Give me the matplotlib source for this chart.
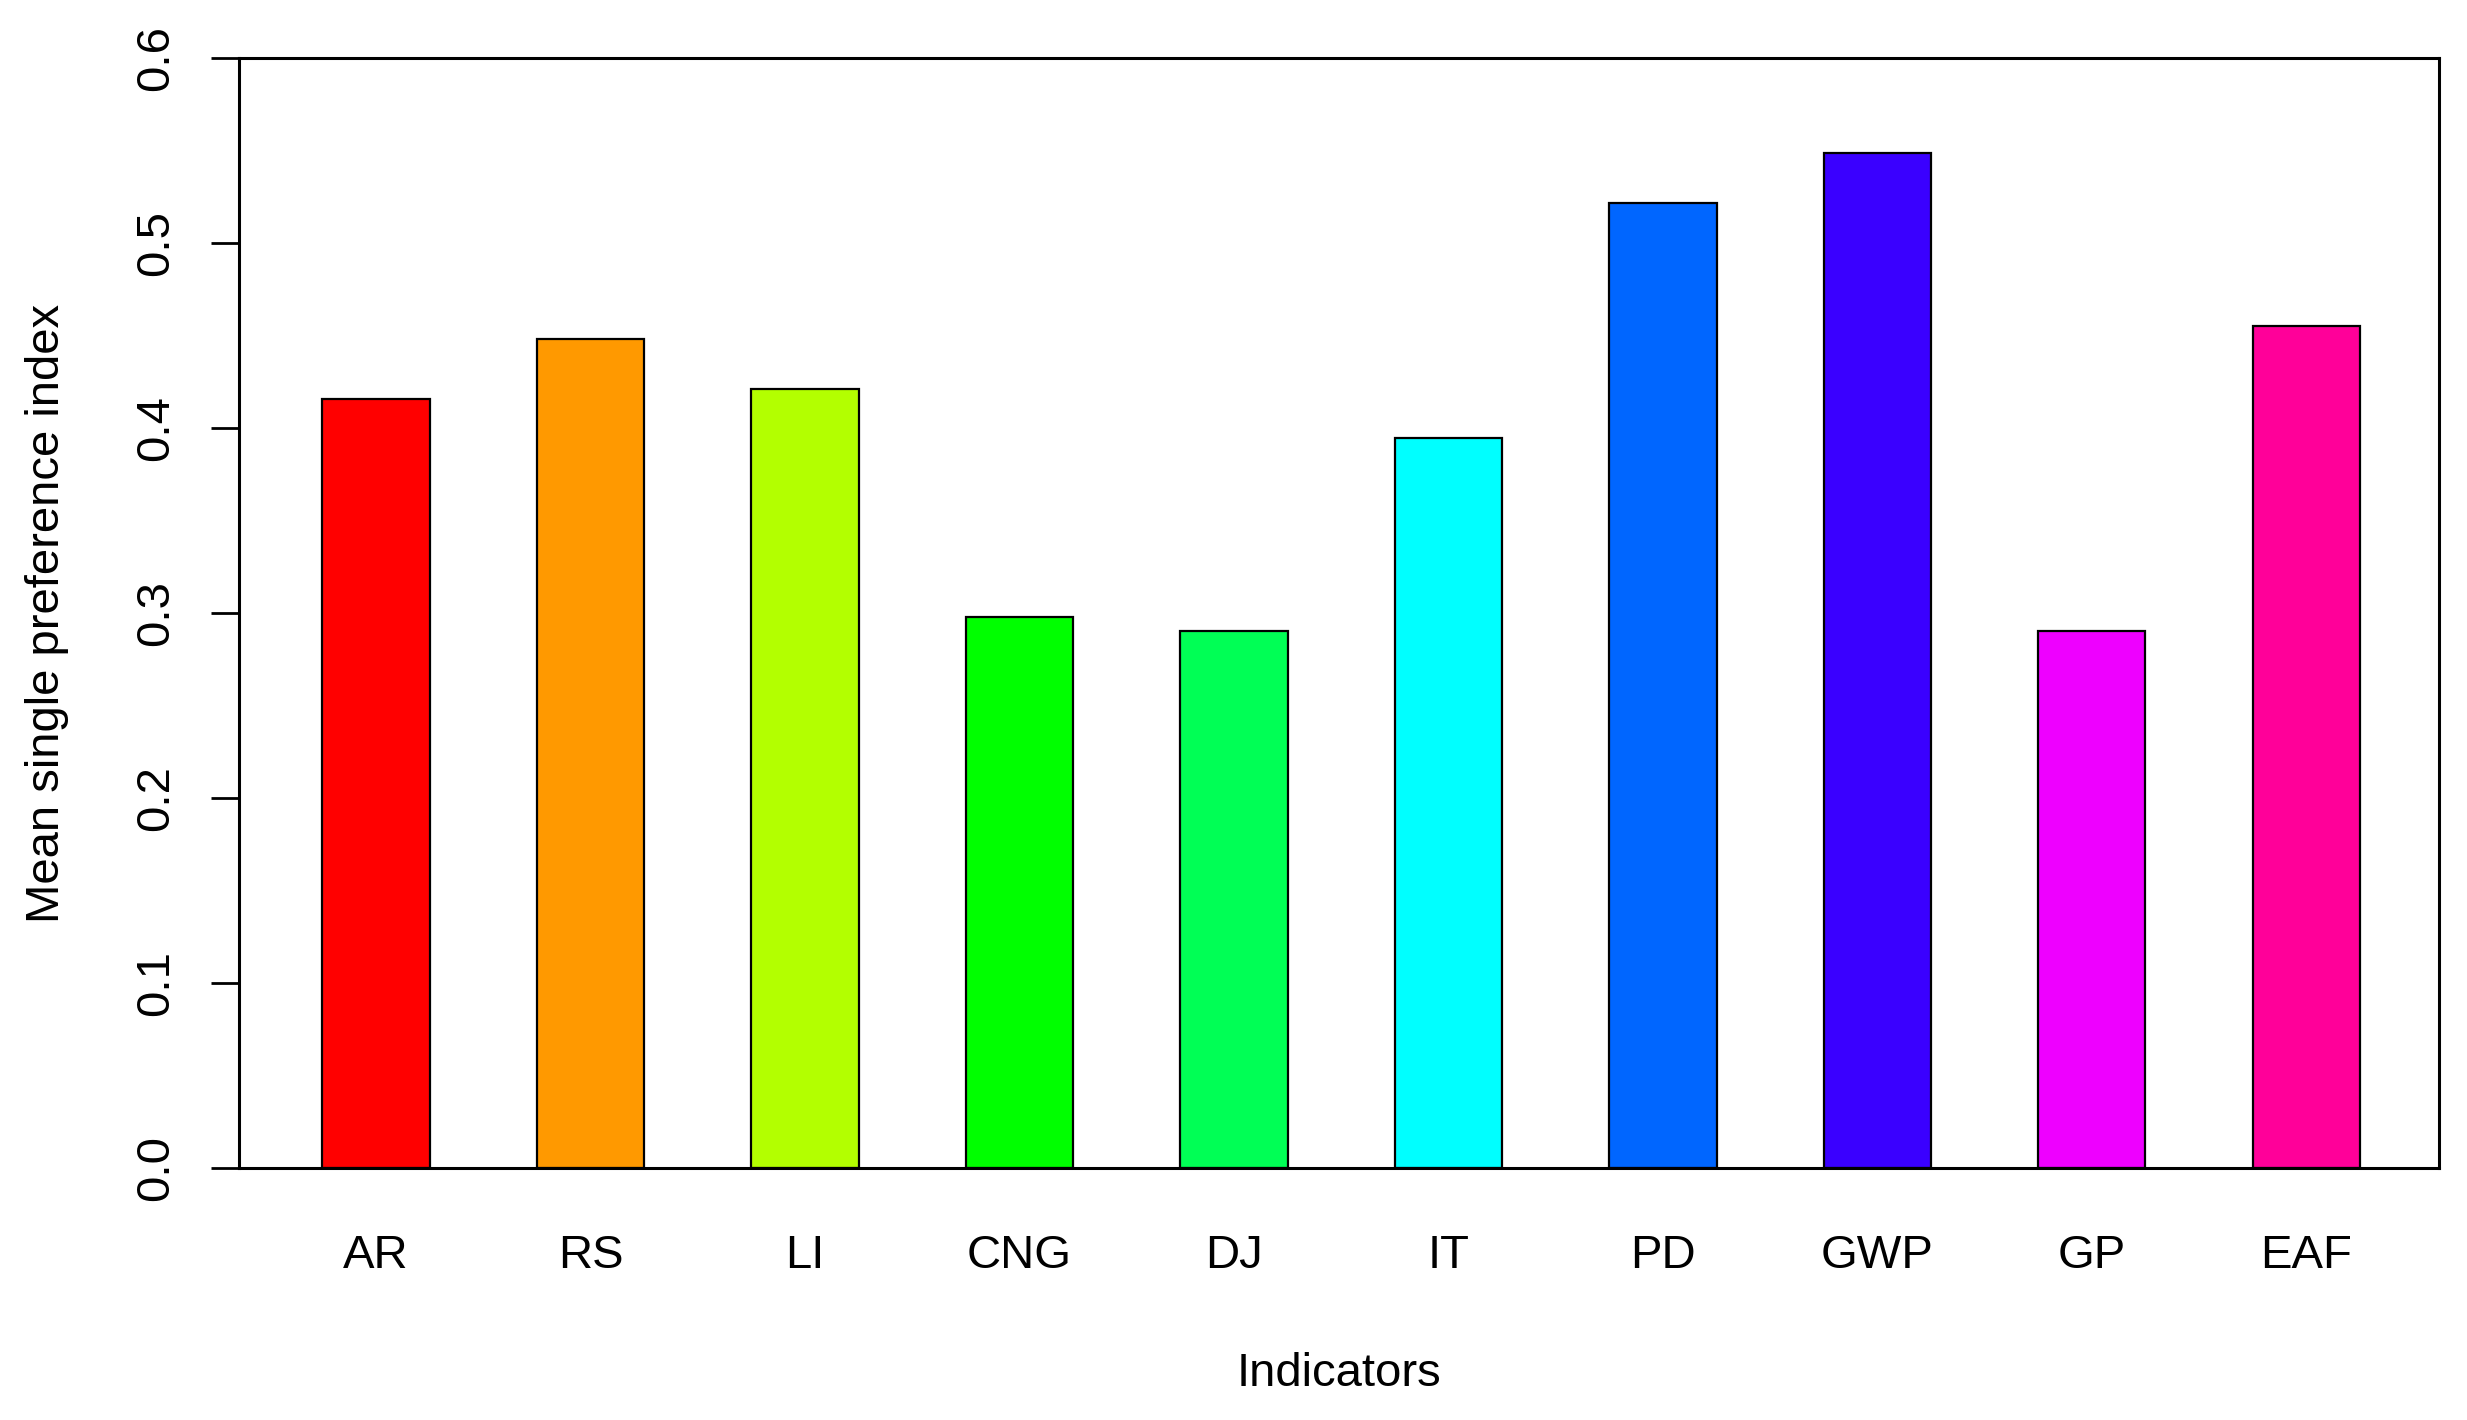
import matplotlib.pyplot as plt
import numpy as np

plt.rcParams['font.family'] = ['Liberation Sans', 'DejaVu Sans']

indicators = ['AR', 'RS', 'LI', 'CNG', 'DJ', 'IT', 'PD', 'GWP', 'GP', 'EAF']
values = [0.416, 0.448, 0.421, 0.298, 0.2905, 0.395, 0.522, 0.549, 0.2905, 0.4555]
colors = ['#FF0000', '#FF9900', '#B3FF00', '#00FF00', '#00FF55',
          '#00FFFF', '#0066FF', '#3A00FF', '#EE00FF', '#FF0099']
yticks = [0.0, 0.1, 0.2, 0.3, 0.4, 0.5, 0.6]

fig = plt.figure(figsize=(24.67, 14.2), dpi=100)
ax = fig.add_axes([0.0969, 0.1772, 0.8916, 0.7818])

x = np.arange(len(indicators))
ax.bar(x, values, width=0.5, color=colors, edgecolor='black', linewidth=1.6)

ax.set_xlim(-0.639, 9.617)
ax.set_ylim(0, 0.6)
ax.set_yticks(yticks)
ax.set_yticklabels(['%.1f' % t for t in yticks], rotation=90, va='center')
ax.set_xticks(x)
ax.set_xticklabels(indicators)

ax.tick_params(axis='y', length=20, width=2, pad=24, labelsize=34)
ax.tick_params(axis='x', length=0, pad=47, labelsize=34)
for s in ax.spines.values():
    s.set_linewidth(2.2)

ax.set_xlabel('Indicators', fontsize=34)
ax.set_ylabel('Mean single preference index', fontsize=34)
ax.xaxis.set_label_coords(0.5, -0.185)
ax.yaxis.set_label_coords(-0.0873, 0.5)
ax.xaxis.label.set_va('center')
ax.yaxis.label.set_va('center')

fig.savefig('out.png')
